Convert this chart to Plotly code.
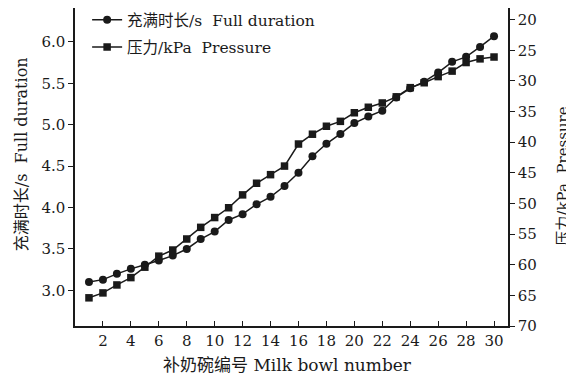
import plotly.graph_objects as go

bowl = list(range(1, 31))
full_duration = [3.10, 3.13, 3.20, 3.26, 3.31, 3.36, 3.42, 3.50, 3.62, 3.71,
                 3.85, 3.92, 4.04, 4.13, 4.26, 4.42, 4.62, 4.77, 4.89, 5.02,
                 5.10, 5.17, 5.33, 5.44, 5.52, 5.63, 5.76, 5.82, 5.94, 6.07]
pressure = [65.4, 64.6, 63.3, 62.1, 60.4, 58.6, 57.6, 55.8, 53.9, 52.3,
            50.7, 48.6, 46.7, 45.3, 43.9, 40.3, 38.7, 37.4, 36.6, 35.2,
            34.3, 33.6, 32.6, 31.1, 30.3, 29.3, 28.4, 27.0, 26.4, 26.1]

x_ticks = list(range(2, 31, 2))
left_ticks = [3.0, 3.5, 4.0, 4.5, 5.0, 5.5, 6.0]
right_ticks = [20, 25, 30, 35, 40, 45, 50, 55, 60, 65, 70]

x_title = "补奶碗编号 Milk bowl number"
left_title = "充满时长/s \u00a0Full duration"
right_title = "压力/kPa \u00a0Pressure"
name_duration = "充满时长/s \u00a0Full duration"
name_pressure = "压力/kPa \u00a0Pressure"

FONT = "DejaVu Serif, Noto Sans CJK SC, serif"
BLACK = "#1a1a1a"

fig = go.Figure()
fig.add_trace(go.Scatter(
    x=bowl, y=full_duration, name=name_duration,
    mode="lines+markers", line=dict(color=BLACK, width=1.5),
    marker=dict(symbol="circle", size=8, color=BLACK), yaxis="y",
    legendgroup="a"))
fig.add_trace(go.Scatter(
    x=bowl, y=pressure, name=name_pressure,
    mode="lines+markers", line=dict(color=BLACK, width=1.5),
    marker=dict(symbol="square", size=7.5, color=BLACK), yaxis="y2",
    legendgroup="b"))

axis_common = dict(showline=True, linecolor=BLACK, linewidth=1.5,
                   showgrid=False, zeroline=False, tickcolor=BLACK,
                   ticklen=5, tickwidth=1.2, automargin=False,
                   tickfont=dict(size=15))

# the page body adds an 8px offset, so the margins are compensated
fig.update_layout(
    width=574, height=374,
    margin=dict(l=67, r=74, t=0, b=56, autoexpand=False),
    paper_bgcolor="white", plot_bgcolor="white",
    font=dict(family=FONT, size=14, color=BLACK),
    showlegend=True,
    legend=dict(x=0.028, y=1.015, xanchor="left", yanchor="top",
                bgcolor="rgba(0,0,0,0)", font=dict(size=15.5),
                itemwidth=30, traceorder="grouped", tracegroupgap=4),
    xaxis=dict(range=[0, 31], tickvals=x_ticks, ticks="inside", **axis_common),
    yaxis=dict(range=[2.57, 6.41], tickvals=left_ticks, tickformat=".1f",
               ticks="outside", **axis_common),
    yaxis2=dict(range=[70, 18.1], tickvals=right_ticks, overlaying="y",
                side="right", ticks="outside", **axis_common),
    annotations=[
        dict(text=x_title, xref="paper", yref="paper", x=0.49, y=-0.123,
             xanchor="center", yanchor="middle", showarrow=False,
             font=dict(size=17)),
        dict(text=left_title, xref="paper", yref="paper", x=-0.125, y=0.54,
             xanchor="center", yanchor="middle", showarrow=False,
             textangle=-90, font=dict(size=16)),
        dict(text=right_title, xref="paper", yref="paper", x=1.125, y=0.47,
             xanchor="center", yanchor="middle", showarrow=False,
             textangle=-90, font=dict(size=15)),
    ],
)

fig.write_html("out.html")
